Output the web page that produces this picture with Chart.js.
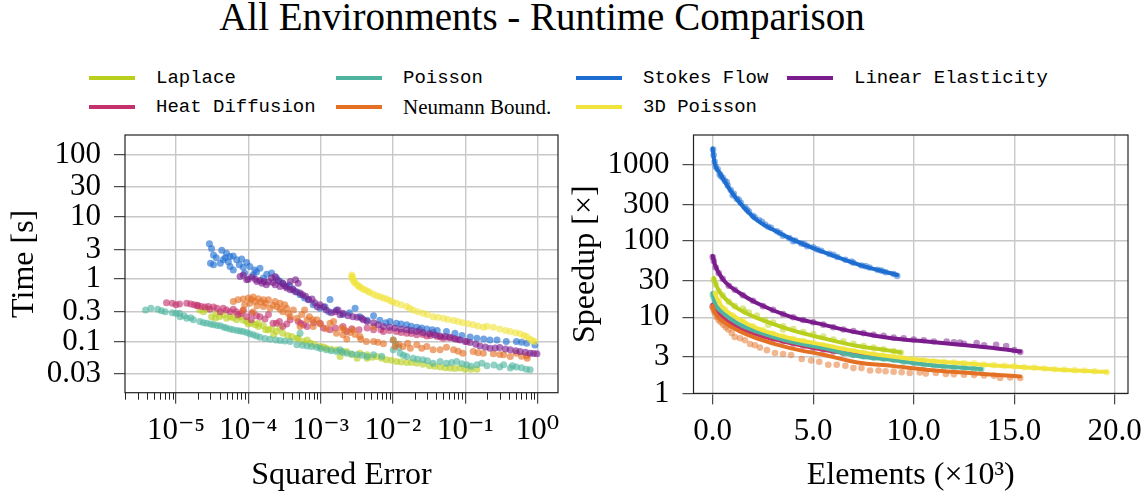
<!DOCTYPE html>
<html><head><meta charset="utf-8">
<script src="https://cdn.jsdelivr.net/npm/chart.js@4.4.1/dist/chart.umd.min.js"></script>
<style>
html,body{margin:0;padding:0;background:#fff;}
#wrap{position:relative;width:1144px;height:497px;overflow:hidden;background:#fff;}
canvas{position:absolute;left:0;top:0;}
#title{position:absolute;left:542px;top:-3px;transform:translateX(-50%);font:39px/39px "Liberation Serif",serif;white-space:nowrap;color:#000;}
.leg{position:absolute;height:30px;display:flex;align-items:center;white-space:nowrap;}
.leg .ln{width:46px;height:3.5px;margin-right:21px;}
.leg .tx{font:19px "Liberation Mono",monospace;color:#000;}
.leg .tx.serif{font:21px "Liberation Serif",serif;}
</style></head><body>
<div id="wrap">
<div id="title">All Environments - Runtime Comparison</div>
<div id="legend"></div>
<canvas id="c1" width="1144" height="497"></canvas>
<canvas id="c2" width="1144" height="497"></canvas>
</div>
<script>
// ---------- series ----------
const seriesNames = ['Laplace','Heat Diffusion','Poisson','Neumann Bound.','Stokes Flow','3D Poisson','Linear Elasticity'];
const seriesColors = ['rgb(184,207,30)','rgb(196,50,110)','rgb(78,180,160)','rgb(228,112,35)','rgb(30,110,210)','rgb(240,228,60)','rgb(122,28,140)'];

// ---------- ticks ----------
const errorTicks = [1e-5,1e-4,1e-3,1e-2,1e-1,1];
const errorTickLabels = ['10\u207B\u2075','10\u207B\u2074','10\u207B\u00B3','10\u207B\u00B2','10\u207B\u00B9','10\u2070'];
const timeTicks = [0.03,0.1,0.3,1,3,10,30,100];
const timeTickLabels = ['0.03','0.1','0.3','1','3','10','30','100'];
const elementTicks = [0,5,10,15,20];
const elementTickLabels = ['0.0','5.0','10.0','15.0','20.0'];
const speedupTicks = [1,3,10,30,100,300,1000];
const speedupTickLabels = ['1','3','10','30','100','300','1000'];

// ---------- left: squared error vs time [s] ----------
const etLaplace = [[2.14e-5,0.32],[2.4e-5,0.3],[2.66e-5,0.33],[3.1e-5,0.25],[3.5e-5,0.237],[3.6e-5,0.285],[4.0e-5,0.25],[4.5e-5,0.268],[5.0e-5,0.235],[5.6e-5,0.25],[6.2e-5,0.24],[6.9e-5,0.223],[7.7e-5,0.25],[8.5e-5,0.22],[9.5e-5,0.21],[1.0e-4,0.19],[1.12e-4,0.197],[1.25e-4,0.185],[1.38e-4,0.174],[1.38e-4,0.197],[1.62e-4,0.179],[1.74e-4,0.154],[1.9e-4,0.154],[2.1e-4,0.16],[2.24e-4,0.128],[2.45e-4,0.145],[2.75e-4,0.164],[3.0e-4,0.136],[3.5e-4,0.125],[4.0e-4,0.12],[4.7e-4,0.113],[4.9e-4,0.113],[5.7e-4,0.1],[6.5e-4,0.106],[7.2e-4,0.095],[8.3e-4,0.0885],[9.8e-4,0.083],[1.1e-3,0.082],[1.2e-3,0.078],[1.4e-3,0.075],[1.66e-3,0.0736],[1.86e-3,0.0575],[2.0e-3,0.07],[2.3e-3,0.069],[2.7e-3,0.062],[3.2e-3,0.054],[3.5e-3,0.065],[4.4e-3,0.0612],[4.4e-3,0.054],[5.2e-3,0.056],[6.0e-3,0.0575],[7e-3,0.054],[8.1e-3,0.0509],[9.5e-3,0.05],[1.12e-2,0.0478],[1.3e-2,0.047],[1.55e-2,0.046],[1.8e-2,0.046],[2.14e-2,0.045],[2.6e-2,0.043],[3.2e-2,0.041],[3.8e-2,0.04],[4.5e-2,0.039],[5.3e-2,0.038],[6.2e-2,0.0375],[7.2e-2,0.037],[8.5e-2,0.0375],[0.1,0.036],[0.12,0.036],[0.145,0.036]];
const etHeat = [[7.4e-6,0.42],[8.9e-6,0.41],[1.0e-5,0.39],[1.12e-5,0.40],[1.41e-5,0.41],[1.6e-5,0.4],[1.78e-5,0.39],[1.95e-5,0.373],[2.0e-5,0.38],[2.24e-5,0.364],[2.5e-5,0.356],[2.8e-5,0.364],[2.95e-5,0.33],[3.3e-5,0.356],[3.7e-5,0.34],[4.1e-5,0.30],[4.5e-5,0.343],[5.0e-5,0.32],[5.6e-5,0.30],[6.2e-5,0.33],[6.8e-5,0.3],[7.2e-5,0.268],[8e-5,0.28],[8.5e-5,0.314],[9.5e-5,0.25],[1.1e-4,0.223],[1.12e-4,0.285],[1.3e-4,0.26],[1.45e-4,0.25],[1.7e-4,0.23],[1.9e-4,0.27],[2.2e-4,0.197],[2.45e-4,0.197],[2.7e-4,0.21],[3.0e-4,0.174],[3.4e-4,0.19],[3.8e-4,0.223],[4.9e-4,0.21],[5.3e-4,0.197],[5.8e-4,0.185],[6.5e-4,0.174],[8e-4,0.2],[9.8e-4,0.197],[1.1e-3,0.164],[1.35e-3,0.154],[1.6e-3,0.165],[2.04e-3,0.174],[2.3e-3,0.145],[2.7e-3,0.16],[3.4e-3,0.154],[4.4e-3,0.164],[5.4e-3,0.154],[6.8e-3,0.154],[7.4e-3,0.145],[9e-3,0.15],[1.12e-2,0.145],[1.3e-2,0.14],[1.55e-2,0.136],[1.8e-2,0.135],[2.14e-2,0.128],[2.34e-2,0.154],[2.6e-2,0.13],[2.95e-2,0.123],[3.3e-2,0.125],[3.6e-2,0.14],[4.1e-2,0.12],[4.6e-2,0.118],[5.0e-2,0.113],[6e-2,0.115],[6.9e-2,0.113],[8e-2,0.108],[0.105,0.10]];
const etPoisson = [[3.8e-6,0.32],[4.5e-6,0.343],[5.6e-6,0.33],[6.3e-6,0.31],[7.1e-6,0.30],[8.9e-6,0.29],[1.0e-5,0.28],[1.12e-5,0.285],[1.14e-5,0.25],[1.3e-5,0.26],[1.41e-5,0.237],[1.6e-5,0.24],[1.74e-5,0.223],[2.14e-5,0.21],[2.4e-5,0.2],[2.66e-5,0.197],[3.0e-5,0.19],[3.3e-5,0.185],[3.7e-5,0.18],[4.1e-5,0.179],[4.6e-5,0.17],[5.0e-5,0.164],[5.6e-5,0.158],[6.2e-5,0.154],[7e-5,0.15],[7.7e-5,0.148],[8.5e-5,0.145],[9.5e-5,0.14],[1.05e-4,0.133],[1.17e-4,0.128],[1.3e-4,0.122],[1.45e-4,0.117],[1.7e-4,0.112],[2.0e-4,0.109],[2.4e-4,0.106],[2.75e-4,0.104],[3.2e-4,0.102],[3.8e-4,0.10],[5.2e-4,0.136],[4.7e-4,0.0885],[5.6e-4,0.087],[6.5e-4,0.085],[7.5e-4,0.083],[8.9e-4,0.081],[1.0e-3,0.077],[1.2e-3,0.0736],[1.4e-3,0.071],[1.66e-3,0.069],[1.86e-3,0.0736],[2.0e-3,0.067],[2.3e-3,0.065],[2.7e-3,0.063],[3.2e-3,0.0612],[3.8e-3,0.06],[4.4e-3,0.0575],[5.4e-3,0.0612],[7e-3,0.058],[1.01e-2,0.106],[1.01e-2,0.0736],[1.1e-2,0.09],[1.2e-2,0.08],[1.26e-2,0.065],[1.4e-2,0.06],[1.55e-2,0.0575],[1.9e-2,0.054],[2.2e-2,0.052],[2.6e-2,0.0509],[3.0e-2,0.049],[3.6e-2,0.045],[4.5e-2,0.0478],[5.5e-2,0.045],[6.5e-2,0.046],[7.6e-2,0.0478],[9e-2,0.044],[0.105,0.0424],[0.12,0.04],[0.145,0.0424],[0.17,0.045],[0.2,0.041],[0.25,0.042],[0.3,0.039],[0.34,0.0424],[0.42,0.0375],[0.45,0.041],[0.51,0.039],[0.6,0.038],[0.7,0.036],[0.79,0.0352]];
const etNeumann = [[6.2e-5,0.44],[7.2e-5,0.466],[8.5e-5,0.48],[1e-4,0.5],[1.1e-4,0.47],[1.17e-4,0.515],[1.25e-4,0.44],[1.38e-4,0.485],[1.5e-4,0.43],[1.62e-4,0.466],[1.75e-4,0.41],[1.9e-4,0.466],[2.2e-4,0.38],[2.35e-4,0.44],[2.5e-4,0.36],[2.75e-4,0.41],[3.2e-4,0.39],[8.9e-5,0.39],[1.05e-4,0.41],[1.32e-4,0.373],[1.62e-4,0.364],[2.0e-4,0.343],[2.75e-4,0.33],[3.0e-4,0.3],[3.4e-4,0.343],[3.6e-4,0.28],[4.2e-4,0.32],[8.5e-5,0.32],[1.17e-4,0.3],[3.8e-4,0.25],[4.7e-4,0.237],[5.5e-4,0.27],[6.0e-4,0.32],[6.5e-4,0.223],[7e-4,0.25],[5.2e-4,0.174],[7.8e-4,0.223],[7.9e-4,0.174],[8.9e-4,0.223],[1.0e-3,0.19],[1.2e-3,0.16],[1.35e-3,0.197],[1.51e-3,0.21],[1.66e-3,0.136],[1.95e-3,0.164],[2.04e-3,0.128],[2.14e-3,0.154],[2.3e-3,0.11],[2.57e-3,0.14],[2.8e-3,0.154],[3.0e-3,0.13],[3.5e-3,0.12],[3.6e-3,0.109],[4.3e-3,0.1],[5.4e-3,0.174],[5.4e-3,0.1],[6.2e-3,0.097],[7.4e-3,0.092],[1.01e-2,0.106],[1.07e-2,0.083],[1.2e-2,0.09],[1.38e-2,0.083],[1.6e-2,0.094],[1.74e-2,0.078],[2.14e-2,0.0885],[2.5e-2,0.078],[2.95e-2,0.083],[3.6e-2,0.0736],[4.5e-2,0.074],[5.5e-2,0.081],[6.9e-2,0.0736],[8e-2,0.07],[9.3e-2,0.065],[0.129,0.069],[0.15,0.066],[0.178,0.065],[0.245,0.0635],[0.3,0.062],[0.34,0.0612],[0.42,0.0575],[0.51,0.065],[0.6,0.058],[0.71,0.059],[0.72,0.054]];
const etStokes = [[2.9e-5,3.7],[3.1e-5,3.1],[3.3e-5,2.45],[3.0e-5,1.8],[3.3e-5,1.7],[3.6e-5,2.2],[4.3e-5,2.9],[4.8e-5,2.2],[5.0e-5,2.6],[5.3e-5,1.9],[5.6e-5,2.3],[6.2e-5,2.35],[6.9e-5,2.05],[7.5e-5,1.7],[8.1e-5,2.1],[8.5e-5,1.55],[4.5e-5,2.05],[4.1e-5,1.8],[5.6e-5,1.6],[6.2e-5,1.4],[9.5e-5,1.85],[1.05e-4,1.6],[1.23e-4,1.4],[1.3e-4,1.3],[1.45e-4,1.5],[8.9e-5,1.25],[1.17e-4,1.17],[1.62e-4,1.04],[1.8e-4,1.2],[2.1e-4,1.25],[2.45e-4,1.04],[2.75e-4,0.92],[3.0e-4,0.85],[3.4e-4,0.76],[3.7e-4,0.8],[4.2e-4,0.67],[4.7e-4,0.62],[5.2e-4,0.56],[6.0e-4,0.5],[6.8e-4,0.47],[7.9e-4,0.39],[9.8e-4,0.34],[1.15e-3,0.36],[1.3e-3,0.3],[1.35e-3,0.47],[1.66e-3,0.32],[2.04e-3,0.27],[2.5e-3,0.29],[3.0e-3,0.34],[3.5e-3,0.25],[4.4e-3,0.22],[5.4e-3,0.26],[6.6e-3,0.22],[8e-3,0.2],[9.1e-3,0.21],[1.12e-2,0.197],[1.3e-2,0.19],[1.55e-2,0.185],[1.8e-2,0.175],[2.14e-2,0.17],[2.5e-2,0.165],[2.95e-2,0.158],[3.5e-2,0.155],[4.1e-2,0.15],[5.5e-2,0.145],[7.2e-2,0.136],[9e-2,0.125],[0.117,0.118],[0.145,0.113],[0.18,0.11],[0.22,0.106],[0.275,0.106],[0.37,0.1],[0.51,0.1],[0.6,0.097],[0.71,0.094],[0.92,0.088]];
const et3DPoisson = [[2.7e-3,1.17],[2.72e-3,1.1],[2.75e-3,1.04],[2.8e-3,0.98],[2.9e-3,0.92],[3.0e-3,0.87],[3.2e-3,0.81],[3.4e-3,0.76],[3.5e-3,0.745],[3.8e-3,0.7],[4.1e-3,0.675],[4.5e-3,0.64],[4.8e-3,0.61],[5.4e-3,0.57],[6.0e-3,0.54],[6.7e-3,0.52],[7.4e-3,0.5],[8.2e-3,0.48],[9.1e-3,0.454],[1.0e-2,0.43],[1.12e-2,0.41],[1.3e-2,0.39],[1.55e-2,0.364],[1.7e-2,0.34],[1.9e-2,0.32],[2.2e-2,0.30],[2.6e-2,0.285],[3.0e-2,0.27],[3.6e-2,0.25],[4.2e-2,0.245],[5.0e-2,0.237],[5.8e-2,0.225],[6.9e-2,0.217],[8.0e-2,0.21],[9.3e-2,0.2],[0.11,0.192],[0.129,0.185],[0.15,0.178],[0.178,0.17],[0.2,0.175],[0.245,0.17],[0.3,0.158],[0.36,0.15],[0.42,0.145],[0.5,0.138],[0.575,0.133],[0.65,0.125],[0.71,0.12],[0.79,0.109],[0.85,0.104],[0.92,0.10]];
const etElasticity = [[7.7e-5,1.1],[8.5e-5,1.17],[9.5e-5,0.975],[1.0e-4,1.0],[1.12e-4,1.08],[1.25e-4,1.0],[1.32e-4,0.92],[1.45e-4,0.95],[1.55e-4,0.86],[1.65e-4,0.92],[1.78e-4,0.81],[1.9e-4,0.9],[2.1e-4,1.04],[2.2e-4,0.88],[2.35e-4,1.1],[2.6e-4,0.95],[2.35e-4,0.81],[2.75e-4,0.76],[3.0e-4,0.86],[3.2e-4,0.78],[3.4e-4,0.72],[3.8e-4,0.92],[4.1e-4,0.7],[4.5e-4,0.975],[4.9e-4,0.86],[3.8e-4,0.675],[4.5e-4,0.63],[5.2e-4,0.6],[5.6e-4,0.56],[6.2e-4,0.53],[6.8e-4,0.466],[7.6e-4,0.48],[8.3e-4,0.42],[9e-4,0.36],[9.8e-4,0.39],[1.1e-3,0.356],[1.2e-3,0.32],[1.41e-3,0.29],[1.6e-3,0.3],[1.74e-3,0.32],[1.86e-3,0.268],[2.04e-3,0.285],[2.4e-3,0.26],[2.8e-3,0.25],[3.2e-3,0.245],[3.7e-3,0.237],[3.9e-3,0.223],[4.4e-3,0.21],[5.4e-3,0.2],[6.3e-3,0.185],[7.4e-3,0.174],[9e-3,0.17],[1.07e-2,0.164],[1.3e-2,0.158],[1.55e-2,0.154],[1.8e-2,0.15],[2.14e-2,0.145],[2.6e-2,0.14],[3.2e-2,0.133],[3.8e-2,0.127],[4.5e-2,0.123],[5.3e-2,0.12],[6.2e-2,0.117],[7.3e-2,0.11],[8.5e-2,0.106],[0.1,0.1],[0.117,0.096],[0.14,0.09],[0.16,0.085],[0.19,0.082],[0.22,0.078],[0.26,0.079],[0.30,0.08],[0.36,0.076],[0.42,0.0736],[0.5,0.071],[0.575,0.069],[0.68,0.067],[0.79,0.065],[0.88,0.064],[0.98,0.0635]];

// ---------- right: elements (x10^3) vs speedup ----------
const dotsLaplace = [[0.05,31],[0.15,27],[0.3,22],[0.5,19.5],[0.8,16],[1.1,14],[1.5,13],[1.6,11.9],[1.8,11.5],[2.2,10.5],[2.6,9.2],[2.77,8],[3.0,8.5],[3.5,7.6],[3.5,6.9],[4.0,7.0],[4.5,6.4],[5.0,6.0],[5.5,5.6],[6.0,5.1],[6.5,4.8],[7.0,4.5],[7.5,4.2],[8.0,4.0],[8.5,3.8],[9.0,3.6],[9.35,3.45]];
const fitLaplace = [[0.05,33],[0.2,25.4],[0.53,18.7],[1.36,12.5],[2.19,9.8],[3.85,6.9],[5.5,5.3],[7.2,4.2],[8.8,3.65],[9.35,3.45]];
const dotsHeat = [[0,14],[0.1,12.5],[0.3,11],[0.6,9.5],[1.0,8.2],[1.5,7],[2.0,6.2],[2.5,5.6],[3.0,5.2],[3.5,4.8],[4.0,4.5],[4.5,4.2],[5.0,3.95],[5.5,3.75],[6.0,3.55],[6.5,3.4],[7.0,3.25],[7.5,3.15],[8.0,3.05],[8.6,2.95]];
const fitHeat = [[0,14.6],[0.3,11],[0.8,8.6],[1.36,7.2],[2.5,5.6],[3.85,4.6],[5.5,3.74],[7.16,3.22],[8.6,2.95]];
const dotsPoisson = [[0,20],[0.05,18],[0.1,16],[0.3,13],[0.6,11],[1.0,9],[1.5,7.8],[2.0,6.8],[2.5,6.0],[3.0,5.5],[3.5,5.0],[4.0,4.7],[4.5,4.4],[5.0,4.1],[5.5,3.9],[6.0,3.6],[6.5,3.4],[7.0,3.2],[7.5,3.05],[8.0,2.95],[8.5,2.85],[9.0,2.75],[9.5,2.6],[10.0,2.5],[10.5,2.4],[11.0,2.35],[11.5,2.25],[12.0,2.2],[12.5,2.15],[13.0,2.1],[13.36,2.08]];
const fitPoisson = [[0,20.8],[0.11,15.4],[0.53,11.4],[1.36,8],[2.19,6.5],[3.85,4.8],[5.5,3.94],[7.2,3.1],[8.9,2.75],[10.65,2.38],[13.36,2.08]];
const dotsNeumann = [[0,13.5],[0.05,12.5],[0.1,11.5],[0.2,10],[0.3,9.2],[0.4,8.6],[0.53,8.0],[0.65,7.4],[0.78,6.9],[0.95,6.2],[1.1,5.5],[1.36,5.3],[1.6,5.0],[1.86,4.45],[2.1,4.3],[2.35,4.0],[2.7,3.7],[3.1,3.39],[3.5,3.29],[3.9,3.2],[4.43,2.83],[4.9,2.7],[5.3,2.6],[5.75,2.38],[6.17,2.38],[6.6,2.3],[7.0,2.15],[7.4,2.15],[7.83,2.0],[8.25,2.0],[8.6,1.95],[9.0,1.93],[9.4,1.9],[9.8,1.85],[10.3,1.88],[10.6,1.82],[11.1,1.85],[11.6,1.8],[12.0,1.78],[12.5,1.76],[13.0,1.74],[13.5,1.72],[14.0,1.71],[14.3,1.59],[14.8,1.62],[15.3,1.59]];
const fitNeumann = [[0,14.1],[0.11,11.4],[0.53,8.8],[1.36,6.5],[2.19,5.3],[3.85,3.94],[5.5,3.22],[7.2,2.55],[8.9,2.3],[10.65,2.05],[12.3,1.89],[13.96,1.76],[15.3,1.67]];
const dotsStokes = [[0.02,1600],[0.05,1350],[0.1,1100],[0.15,950],[0.25,880],[0.35,760],[0.4,720],[0.5,680],[0.6,620],[0.7,600],[0.75,540],[0.9,470],[1.0,400],[1.05,420],[1.2,360],[1.3,350],[1.4,320],[1.6,280],[1.7,260],[1.8,245],[2.0,215],[2.1,205],[2.3,190],[2.45,180],[2.6,165],[2.75,155],[2.9,150],[3.2,135],[3.35,128],[3.5,118],[3.8,110],[4.0,100],[4.1,102],[4.4,93],[4.55,92],[4.7,86],[5.0,83],[5.2,78],[5.4,75],[5.8,68],[6.0,66],[6.2,62],[6.6,57],[6.9,54],[7.0,52],[7.4,48],[7.6,47],[7.8,45],[8.2,42],[8.4,41],[8.6,39],[9.0,37],[9.18,35]];
const fitStokes = [[0,1650],[0.05,1250],[0.12,1000],[0.3,820],[0.45,705],[0.86,471],[1.36,316],[2.19,190],[3.01,141],[3.85,109],[5.0,81],[6.33,60],[7.5,47],[8.5,40],[9.18,36]];
const dots3DPoisson = [[0.1,20],[0.3,16.5],[0.6,12.8],[1.0,10.5],[1.5,9],[2.0,7.6],[2.5,6.8],[3.0,6.1],[3.5,5.6],[4.0,5.2],[4.5,4.9],[5.0,4.6],[5.5,4.3],[6.0,4.0],[6.5,3.8],[7.0,3.6],[7.5,3.45],[8.0,3.3],[8.5,3.15],[9.0,3.05],[9.5,2.9],[10.0,2.8],[10.5,2.75],[11.0,2.65],[11.5,2.6],[12.0,2.55],[12.5,2.5],[13.0,2.48],[13.5,2.4],[14.0,2.35],[14.5,2.3],[15.0,2.28],[15.5,2.2],[16.0,2.18],[16.5,2.12],[17.0,2.08],[17.5,2.05],[18.0,2.02],[18.5,2.0],[19.0,1.95],[19.6,1.9]];
const fit3DPoisson = [[0.1,21],[0.3,16],[0.53,13.2],[1.36,9.3],[2.19,7.2],[3.85,5.3],[5.5,4.36],[7.2,3.55],[8.9,3.05],[10.65,2.7],[12.3,2.5],[13.96,2.33],[15.62,2.19],[17.28,2.05],[19.6,1.92]];
const dotsElasticity = [[0,62],[0.05,55],[0.15,45],[0.3,38],[0.5,32],[0.8,26],[1.1,23],[1.5,19.5],[2.0,16.5],[2.5,14],[3.0,12.5],[3.5,11],[4.0,10],[4.5,9.2],[5.0,8.6],[5.5,8.0],[6.0,7.4],[6.5,6.9],[7.0,6.6],[7.5,6.2],[8.0,5.9],[8.5,5.7],[9.0,5.4],[9.5,5.3],[10.0,5.1],[10.5,5.0],[11.0,4.8],[11.64,4.8],[12.0,4.7],[12.3,4.67],[12.5,4.5],[13.13,4.58],[13.5,4.3],[14.1,4.36],[14.6,4.2],[15.0,3.7],[15.3,3.5]];
const fitElasticity = [[0,64],[0.11,49],[0.53,31],[1.36,20.7],[2.19,15.4],[3.85,10.2],[5.5,8],[7.2,6.3],[8.9,5.3],[10.65,4.8],[12.3,4.36],[13.96,3.94],[15.3,3.56]];

const leftSeries = [etLaplace, etHeat, etPoisson, etNeumann, etStokes, et3DPoisson, etElasticity];
const rightDots = [dotsLaplace, dotsHeat, dotsPoisson, dotsNeumann, dotsStokes, dots3DPoisson, dotsElasticity];
const rightFits = [fitLaplace, fitHeat, fitPoisson, fitNeumann, fitStokes, fit3DPoisson, fitElasticity];

// ---------- legend (HTML, 4 columns, column-major) ----------
const legCols = [89, 336, 576, 787];
const legRows = [78, 107];
const legend = document.getElementById('legend');
seriesNames.forEach((name, i) => {
  const d = document.createElement('div');
  d.className = 'leg';
  d.style.left = legCols[Math.floor(i / 2)] + 'px';
  d.style.top = (legRows[i % 2] - 15) + 'px';
  const ln = document.createElement('span'); ln.className = 'ln'; ln.style.background = seriesColors[i];
  const tx = document.createElement('span'); tx.className = 'tx' + (name === 'Neumann Bound.' ? ' serif' : ''); tx.textContent = name;
  d.appendChild(ln); d.appendChild(tx); legend.appendChild(d);
});

// ---------- helpers ----------
const SERIF = '"Liberation Serif", "DejaVu Serif", serif';
const GRID = '#c8c8c8';
const INK = '#222';
function rgba(c, a) { return c.replace('rgb(', 'rgba(').replace(')', ',' + a + ')'); }
function labelFor(list, labels) {
  return v => { const k = list.findIndex(t => Math.abs(t - v) <= Math.abs(t) * 1e-6 + 1e-12); return k >= 0 ? labels[k] : ''; };
}
const framePlugin = {
  id: 'frame',
  afterDraw(chart) {
    const { ctx, chartArea: a } = chart;
    ctx.save(); ctx.strokeStyle = INK; ctx.lineWidth = 1.2;
    ctx.strokeRect(a.left, a.top, a.right - a.left, a.bottom - a.top);
    ctx.restore();
  }
};
const minorTickPlugin = {
  id: 'minorTicks',
  afterDraw(chart) {
    const sx = chart.scales.x, { ctx, chartArea: a } = chart;
    ctx.save(); ctx.strokeStyle = INK; ctx.lineWidth = 1;
    for (let e = -6; e <= 0; e++) {
      for (let m = 2; m <= 9; m++) {
        const v = m * Math.pow(10, e);
        if (v < sx.min || v > sx.max) continue;
        const px = Math.round(sx.getPixelForValue(v)) + 0.5;
        ctx.beginPath(); ctx.moveTo(px, a.bottom); ctx.lineTo(px, a.bottom + 7); ctx.stroke();
      }
    }
    ctx.restore();
  }
};
const tickFont = { family: SERIF, size: 31 };
const titleFont = { family: SERIF, size: 32 };

// ---------- left chart ----------
new Chart(document.getElementById('c1'), {
  type: 'scatter',
  data: {
    datasets: leftSeries.map((pts, i) => ({
      label: seriesNames[i],
      data: pts.map(p => ({ x: p[0], y: p[1] })),
      backgroundColor: rgba(seriesColors[i], 0.62),
      borderWidth: 0, pointRadius: 3.5, pointHoverRadius: 3.5,
      order: 10 - i
    }))
  },
  options: {
    responsive: false, animation: false, devicePixelRatio: 1,
    layout: { padding: { left: 5.8, top: 135, right: 1144 - 558, bottom: 2.3 } },
    plugins: { legend: { display: false }, tooltip: { enabled: false } },
    scales: {
      x: {
        type: 'logarithmic', min: Math.pow(10, -5.705), max: Math.pow(10, 0.283),
        afterBuildTicks(s) { s.ticks = errorTicks.map(v => ({ value: v })); },
        afterFit(s) { s.height = 102; s.paddingLeft = 0; s.paddingRight = 0; },
        ticks: { autoSkip: false, maxRotation: 0, minRotation: 0, padding: 9, font: tickFont, color: '#000', callback: labelFor(errorTicks, errorTickLabels) },
        grid: { color: GRID, lineWidth: 1.4, tickLength: 11, tickColor: INK, tickWidth: 1 },
        border: { display: false },
        title: { display: true, text: 'Squared Error', font: titleFont, color: '#000', padding: 0 }
      },
      y: {
        type: 'logarithmic', min: 0.0151, max: 205,
        afterBuildTicks(s) { s.ticks = timeTicks.map(v => ({ value: v })); },
        afterFit(s) { s.width = 119.2; s.paddingTop = 0; s.paddingBottom = 0; },
        ticks: { autoSkip: false, padding: 13, font: tickFont, color: '#000', callback: labelFor(timeTicks, timeTickLabels) },
        grid: { color: GRID, lineWidth: 1.4, tickLength: 11, tickColor: INK, tickWidth: 1 },
        border: { display: false },
        title: { display: true, text: 'Time [s]', font: titleFont, color: '#000', padding: 0 }
      }
    }
  },
  plugins: [framePlugin, minorTickPlugin]
});

// ---------- right chart ----------
const rightDatasets = [];
rightDots.forEach((pts, i) => rightDatasets.push({
  label: seriesNames[i] + ' samples',
  data: pts.map(p => ({ x: p[0], y: p[1] })),
  backgroundColor: rgba(seriesColors[i], 0.5),
  borderWidth: 0, pointRadius: 3.3, pointHoverRadius: 3.3, showLine: false,
  order: 30 - i
}));
rightFits.forEach((pts, i) => rightDatasets.push({
  label: seriesNames[i],
  data: pts.map(p => ({ x: p[0], y: p[1] })),
  borderColor: seriesColors[i], backgroundColor: seriesColors[i],
  borderWidth: 4, pointRadius: 0, pointHoverRadius: 0, showLine: true,
  cubicInterpolationMode: 'monotone', fill: false, borderCapStyle: 'round',
  order: 10 - i
}));

new Chart(document.getElementById('c2'), {
  type: 'scatter',
  data: { datasets: rightDatasets },
  options: {
    responsive: false, animation: false, devicePixelRatio: 1,
    layout: { padding: { left: 566.8, top: 135, right: 16, bottom: 2.3 } },
    plugins: { legend: { display: false }, tooltip: { enabled: false } },
    scales: {
      x: {
        type: 'linear', min: -0.955, max: 20.66,
        afterBuildTicks(s) { s.ticks = elementTicks.map(v => ({ value: v })); },
        afterFit(s) { s.height = 101.3; s.paddingLeft = 0; s.paddingRight = 0; },
        ticks: { autoSkip: false, maxRotation: 0, minRotation: 0, padding: 9, font: tickFont, color: '#000', callback: labelFor(elementTicks, elementTickLabels) },
        grid: { color: GRID, lineWidth: 1.4, tickLength: 11, tickColor: INK, tickWidth: 1 },
        border: { display: false },
        title: { display: true, text: 'Elements (\u00D710\u00B3)', font: titleFont, color: '#000', padding: 0 }
      },
      y: {
        type: 'logarithmic', min: 1, max: 2483,
        afterBuildTicks(s) { s.ticks = speedupTicks.map(v => ({ value: v })); },
        afterFit(s) { s.width = 126.7; s.paddingTop = 0; s.paddingBottom = 0; },
        ticks: { autoSkip: false, padding: 13, font: tickFont, color: '#000', callback: labelFor(speedupTicks, speedupTickLabels) },
        grid: { color: GRID, lineWidth: 1.4, tickLength: 11, tickColor: INK, tickWidth: 1 },
        border: { display: false },
        title: { display: true, text: 'Speedup [\u00D7]', font: titleFont, color: '#000', padding: 0 }
      }
    }
  },
  plugins: [framePlugin]
});
</script>
</body></html>
